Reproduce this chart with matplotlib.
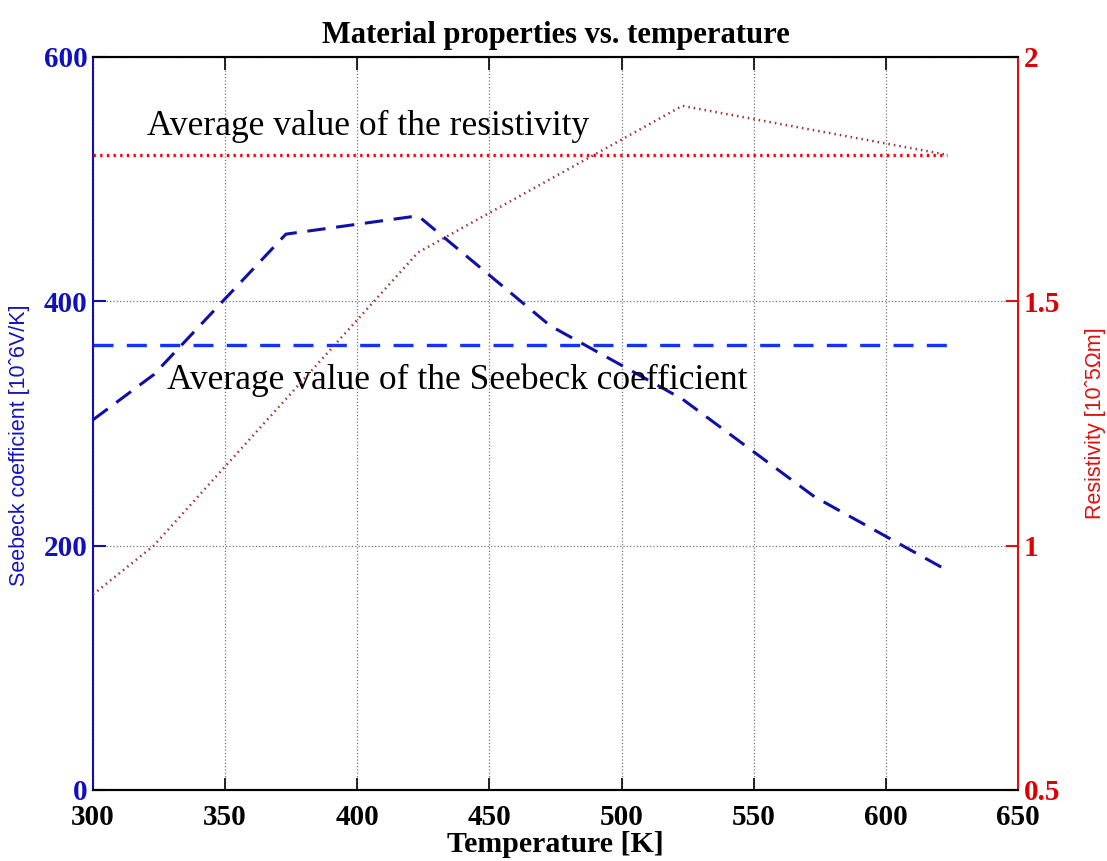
import numpy as np
import matplotlib
matplotlib.use("Agg")
import matplotlib.pyplot as plt
from matplotlib.font_manager import FontProperties

# 温度 [K]
temperature = [300, 323, 373, 423, 473, 523, 573, 623]
seebeck = [303, 340, 455, 470, 380, 320, 240, 180]        # 10^-6 V/K
resistivity = [0.9, 1.0, 1.3, 1.6, 1.75, 1.9, 1.85, 1.8]   # 10^-5 Ohm m
seebeck_avg = 364
resistivity_avg = 1.8
avg_span = [300, 623]

xticks = [300, 350, 400, 450, 500, 550, 600, 650]
yticks_left = [0, 200, 400, 600]
yticks_right = [0.5, 1, 1.5, 2]

serif = "Liberation Serif"
sans = "Liberation Sans"
blue_axis = "#1010b0"
red_axis = "#dd1111"

fig = plt.figure(figsize=(11.07, 8.61), dpi=100)
ax1 = fig.add_axes([0.084, 0.0825, 0.8356, 0.8513])
ax2 = ax1.twinx()

ax1.plot(temperature, seebeck, color="#1010a8", lw=2.2, ls=(0, (6, 3.5)))
ax1.plot(avg_span, [seebeck_avg, seebeck_avg], color="#1133ff", lw=2.4, ls=(0, (6, 4)))
ax2.plot(temperature, resistivity, color="#a0303a", lw=1.8, ls=(0, (0.6, 1.6)))
ax2.plot(avg_span, [resistivity_avg, resistivity_avg], color="#ff0000", lw=2.4, ls=(0, (0.7, 1.3)))

ax1.set_xlim(300, 650)
ax1.set_ylim(0, 600)
ax2.set_ylim(0.5, 2)
ax1.set_xticks(xticks)
ax1.set_yticks(yticks_left)
ax2.set_yticks(yticks_right)
ax2.set_yticklabels(["0.5", "1", "1.5", "2"])

ax1.grid(True, ls=":", color="#777777", lw=0.9)

tick_font = FontProperties(family=serif, weight="bold", size=21)
for lab in ax1.get_xticklabels():
    lab.set_fontproperties(tick_font)
for lab in ax1.get_yticklabels():
    lab.set_fontproperties(tick_font)
    lab.set_color("#1010c0")
for lab in ax2.get_yticklabels():
    lab.set_fontproperties(tick_font)
    lab.set_color("#dd0000")

ax1.tick_params(axis="x", direction="in", length=9, width=1.2, top=True, pad=10)
ax1.tick_params(axis="y", direction="in", length=9, width=1.5, color=blue_axis, pad=4)
ax2.tick_params(axis="y", direction="in", length=9, width=1.5, color=red_axis, pad=4)

for ax in (ax1, ax2):
    ax.spines["top"].set_color("black")
    ax.spines["bottom"].set_color("black")
    ax.spines["top"].set_linewidth(1.5)
    ax.spines["bottom"].set_linewidth(1.5)
ax1.spines["left"].set_color(blue_axis)
ax1.spines["left"].set_linewidth(1.5)
ax2.spines["left"].set_visible(False)
ax2.spines["right"].set_color(red_axis)
ax2.spines["right"].set_linewidth(1.5)
ax1.spines["right"].set_visible(False)

ax1.set_ylabel("Seebeck coefficient [10ˆ6V/K]", family=sans, size=15.5, color="#1515c0", labelpad=0)
ax1.yaxis.set_label_coords(-0.068, 0.47)
ax2.set_ylabel("Resistivity [10ˆ5Ωm]", family=sans, size=15.5, color="#dd1111", labelpad=18)
ax1.set_xlabel("Temperature [K]", family=serif, weight="bold", size=21.5, labelpad=0)
ax1.set_title("Material properties vs. temperature", family=serif, weight="bold", size=22, pad=10)

ax1.text(320.5, 543, "Average value of the resistivity", family=serif, size=25.5, va="center")
ax1.text(328, 335, "Average value of the Seebeck coefficient", family=serif, size=25.5, va="center")

fig.savefig("out.png", dpi=100)
